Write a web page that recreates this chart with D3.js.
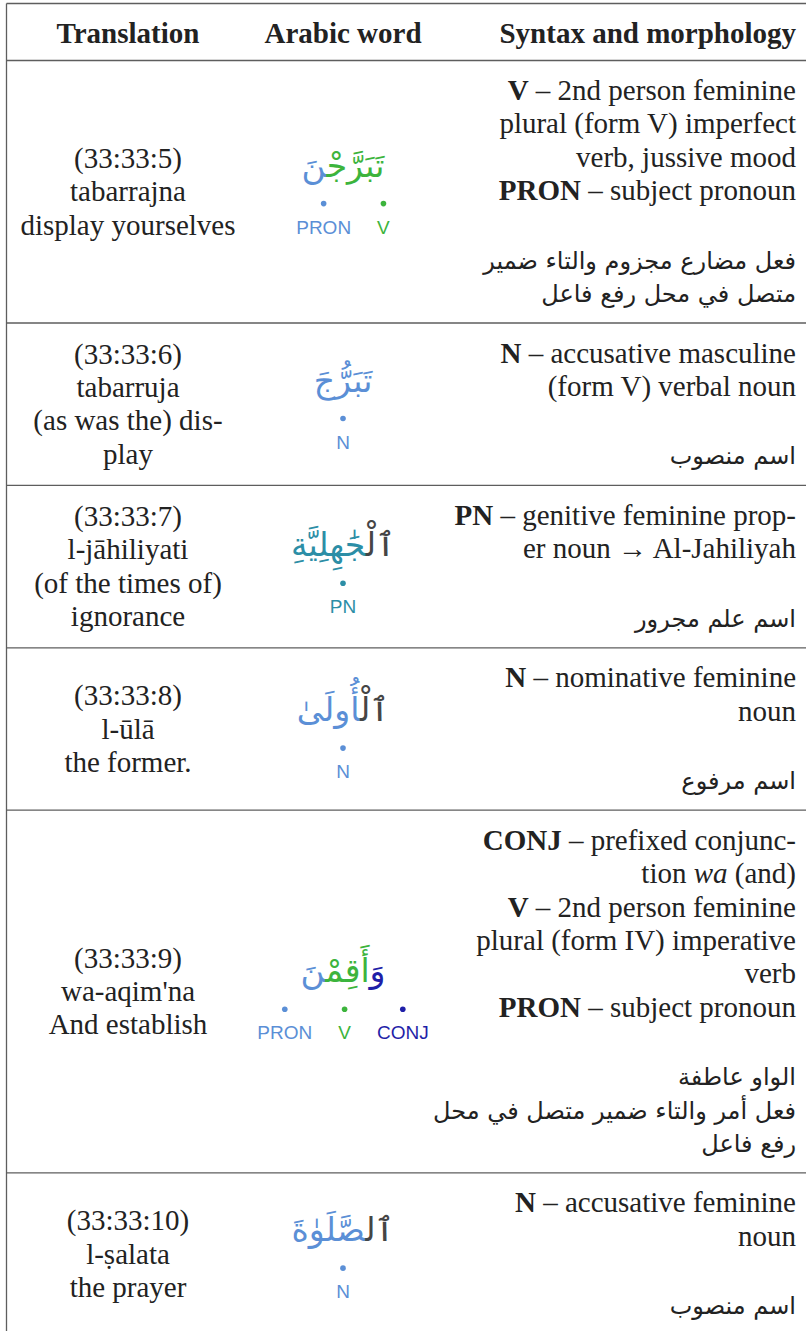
<!DOCTYPE html>
<html><head><meta charset="utf-8">
<script src="https://cdn.jsdelivr.net/npm/d3@7"></script>
<style>html,body{margin:0;padding:0;background:#fff;} svg{display:block;}</style>
</head><body>
<script>
// ---------- data ----------
const headers = ["Translation", "Arabic word", "Syntax and morphology"];
const locations = ["(33:33:5)", "(33:33:6)", "(33:33:7)", "(33:33:8)", "(33:33:9)", "(33:33:10)"];
const transliterations = ["tabarrajna", "tabarruja", "l-jāhiliyati", "l-ūlā", "wa-aqim'na", "l-ṣalata"];
const translations = [
  ["display yourselves"],
  ["(as was the) dis-", "play"],
  ["(of the times of)", "ignorance"],
  ["the former."],
  ["And establish"],
  ["the prayer"]
];
// word segments in logical (reading) order; tag "DET" is drawn without a label
const wordSegments = [
  [["تَبَرَّجْ", "V"], ["نَ", "PRON"]],
  [["تَبَرُّجَ", "N"]],
  [["ٱلْ", "DET"], ["جَٰهِلِيَّةِ", "PN"]],
  [["ٱلْ", "DET"], ["أُولَىٰ", "N"]],
  [["وَ", "CONJ"], ["أَقِمْ", "V"], ["نَ", "PRON"]],
  [["ٱل", "DET"], ["صَّلَوٰةَ", "N"]]
];
const posTags   = ["V", "PRON", "N", "PN", "CONJ", "DET"];
const posColors = ["#3cb43c", "#5b8fd6", "#5b8fd6", "#2c8ea6", "#1f1fa8", "#454545"];
const syntaxLines = [
  ["**V** – 2nd person feminine", "plural (form V) imperfect", "verb, jussive mood", "**PRON** – subject pronoun"],
  ["**N** – accusative masculine", "(form V) verbal noun"],
  ["**PN** – genitive feminine prop-", "er noun → Al-Jahiliyah"],
  ["**N** – nominative feminine", "noun"],
  ["**CONJ** – prefixed conjunc-", "tion _wa_ (and)", "**V** – 2nd person feminine", "plural (form IV) imperative", "verb", "**PRON** – subject pronoun"],
  ["**N** – accusative feminine", "noun"]
];
const arabicNotes = [
  ["فعل مضارع مجزوم والتاء ضمير", "متصل في محل رفع فاعل"],
  ["اسم منصوب"],
  ["اسم علم مجرور"],
  ["اسم مرفوع"],
  ["الواو عاطفة", "فعل أمر والتاء ضمير متصل في محل", "رفع فاعل"],
  ["اسم منصوب"]
];

// ---------- layout ----------
const W = 806, H = 1331;
const SERIF = "'Liberation Serif','Times New Roman',serif";
const SANS = "'Liberation Sans',Arial,sans-serif";
const ARAB = "'DejaVu Sans',sans-serif";
const FS = 29, LH = 33.4, LHA = 33.3, AR_FS = 24, WORD_FS = 33, LABEL_FS = 19;
const tableLeft = 6.5, tableTop = 3.5, headerBottom = 60.5;
const padTop = 30, gapAr = 71, padBot = 28;
const color = d3.scaleOrdinal(posTags, posColors);
const colX = d3.scaleOrdinal(headers, [128, 343, 796]);
const ZWJ = "\u200D";

const rowHeights = syntaxLines.map((s, i) =>
  padTop + (s.length - 1) * LH + gapAr + (arabicNotes[i].length - 1) * LHA + padBot);
const rowTops = [headerBottom, ...d3.cumsum(rowHeights).map(v => v + headerBottom)];

const svg = d3.select("body").append("svg").attr("width", W).attr("height", H)
  .style("background", "#fff");

// grid lines
const lineCol = "#5e5e5e";
svg.append("line").attr("x1", tableLeft).attr("x2", tableLeft).attr("y1", tableTop).attr("y2", H)
  .attr("stroke", lineCol).attr("stroke-width", 1.3);
svg.selectAll("line.h").data([tableTop, ...rowTops.slice(0, rowHeights.length + 1)]).join("line")
  .attr("class", "h").attr("x1", tableLeft).attr("x2", W).attr("y1", d => d).attr("y2", d => d)
  .attr("stroke", lineCol).attr("stroke-width", 1.3);

// headers
svg.selectAll("text.hdr").data(headers).join("text").attr("class", "hdr")
  .attr("x", d => colX(d)).attr("y", 42.5)
  .attr("text-anchor", (d, i) => i === 2 ? "end" : "middle")
  .attr("font-family", SERIF).attr("font-size", FS).attr("font-weight", "bold").attr("fill", "#222")
  .text(d => d);

// canvas for ink measurement
const ctx = document.createElement("canvas").getContext("2d");
ctx.font = `${WORD_FS}px ${ARAB}`;

rowHeights.forEach((h, i) => {
  const top = rowTops[i], cy = top + h / 2;
  const g = svg.append("g");

  // column 1: location, transliteration, translation
  const c1 = [locations[i], transliterations[i], ...translations[i]];
  const c1Top = cy - (c1.length - 1) * LH / 2;
  g.selectAll("text.c1").data(c1).join("text").attr("class", "c1")
    .attr("x", colX(headers[0])).attr("y", (d, k) => c1Top + k * LH + 9.5)
    .attr("text-anchor", "middle").attr("font-family", SERIF).attr("font-size", FS).attr("fill", "#222")
    .text(d => d);

  // column 2: coloured word, dots, tags
  const segs = wordSegments[i];
  const full = segs.map(s => s[0]).join("");
  const m = ctx.measureText(full);
  const ascent = m.actualBoundingBoxAscent;
  const baseline = cy - (57 - ascent) / 2;
  const wt = g.append("text").attr("x", colX(headers[1])).attr("y", baseline)
    .attr("text-anchor", "middle").attr("font-family", ARAB).attr("font-size", WORD_FS);
  segs.forEach((s, k) => {
    const joinPrev = k > 0 && !/^[\u0648]/.test(segs[k - 1][0]) ;
    let t = s[0];
    if (k > 0 && joinPrev) t = ZWJ + t;
    if (k < segs.length - 1 && !/^\u0648/.test(s[0])) t = t + ZWJ;
    wt.append("tspan").attr("fill", color(s[1])).text(t);
  });

  const tags = segs.map(s => s[1]).filter(t => t !== "DET").reverse();
  const lg = g.append("g");
  const labels = lg.selectAll("text").data(tags).join("text")
    .attr("font-family", SANS).attr("font-size", LABEL_FS).attr("text-anchor", "middle")
    .attr("fill", d => color(d)).attr("y", baseline + 57).text(d => d);
  const widths = [];
  labels.each(function () { widths.push(this.getComputedTextLength()); });
  const gap = 26;
  const total = d3.sum(widths) + gap * (widths.length - 1);
  let x0 = colX(headers[1]) - total / 2;
  const centers = widths.map(w => { const c = x0 + w / 2; x0 += w + gap; return c; });
  labels.attr("x", (d, k) => centers[k]);
  lg.selectAll("circle").data(tags).join("circle")
    .attr("cx", (d, k) => centers[k]).attr("cy", baseline + 27).attr("r", 2.8)
    .attr("fill", d => color(d));

  // column 3: syntax lines
  const sl = syntaxLines[i];
  sl.forEach((line, k) => {
    const t = g.append("text").attr("x", colX(headers[2])).attr("y", top + padTop + k * LH + 9.5)
      .attr("text-anchor", "end").attr("font-family", SERIF).attr("font-size", FS).attr("fill", "#222");
    line.split(/(\*\*[^*]+\*\*|_[^_]+_)/).filter(p => p.length).forEach(p => {
      const ts = t.append("tspan");
      if (p.startsWith("**")) ts.attr("font-weight", "bold").text(p.slice(2, -2));
      else if (p.startsWith("_")) ts.attr("font-style", "italic").text(p.slice(1, -1));
      else ts.text(p);
    });
  });
  const arTop = top + padTop + (sl.length - 1) * LH + gapAr;
  g.selectAll("text.ar").data(arabicNotes[i]).join("text").attr("class", "ar")
    .attr("x", colX(headers[2])).attr("y", (d, k) => arTop + k * LHA + 7)
    .attr("text-anchor", "end").attr("font-family", ARAB).attr("font-size", AR_FS).attr("fill", "#222")
    .text(d => d);
});
</script>
</body></html>
